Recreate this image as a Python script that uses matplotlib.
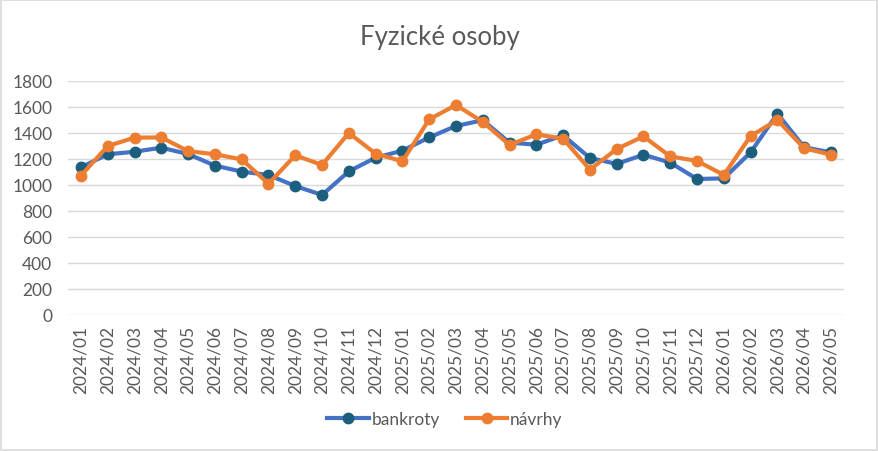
import matplotlib
matplotlib.use("Agg")
import matplotlib.pyplot as plt
from matplotlib.patches import Rectangle

months = ["2024/01","2024/02","2024/03","2024/04","2024/05","2024/06","2024/07","2024/08",
          "2024/09","2024/10","2024/11","2024/12","2025/01","2025/02","2025/03","2025/04",
          "2025/05","2025/06","2025/07","2025/08","2025/09","2025/10","2025/11","2025/12",
          "2026/01","2026/02","2026/03","2026/04","2026/05"]
bankroty = [1136, 1236, 1256, 1287, 1238, 1149, 1103, 1077, 992, 923, 1105, 1210, 1264,
            1366, 1454, 1498, 1326, 1310, 1382, 1208, 1162, 1233, 1172, 1046, 1051, 1251,
            1549, 1290, 1251]
navrhy = [1072, 1300, 1364, 1366, 1261, 1236, 1197, 1010, 1228, 1154, 1400, 1241, 1182,
          1505, 1615, 1485, 1308, 1390, 1356, 1118, 1277, 1374, 1220, 1185, 1077, 1377,
          1500, 1282, 1233]
yticks = list(range(0, 1801, 200))

plt.rcParams['font.family'] = ['Lato', 'DejaVu Sans']
fig = plt.figure(figsize=(8.79, 4.52), dpi=100)
ax = fig.add_axes([0.0769, 0.3009, 0.8837, 0.5177])

x = list(range(len(months)))
ax.plot(x, bankroty, color='#4472C4', lw=3.0, marker='o', ms=7.5,
        mfc='#1B5E7E', mec='#1B5E7E', label='bankroty', zorder=3)
ax.plot(x, navrhy, color='#ED7D31', lw=3.0, marker='o', ms=7.5,
        mfc='#ED7D31', mec='#ED7D31', label='návrhy', zorder=4)

ax.set_xlim(-0.5, len(months) - 0.5)
ax.set_ylim(0, 1800)
ax.set_yticks(yticks)
ax.set_yticklabels([str(v) for v in yticks])
ax.set_xticks(x)
ax.set_xticklabels(months, rotation=90)
ax.grid(axis='y', color='#D9D9D9', lw=1.0)
ax.set_axisbelow(True)
for s in ax.spines.values():
    s.set_visible(False)
ax.tick_params(axis='both', length=0, labelsize=12.5, colors='#595959')
ax.tick_params(axis='x', pad=7)
ax.tick_params(axis='y', pad=11)

fig.text(0.5, 0.918, 'Fyzické osoby', ha='center', va='center', fontsize=18.5, color='#595959')

leg = fig.legend(loc='center', bbox_to_anchor=(0.506, 0.071), ncol=2, frameon=False,
                 fontsize=12.5, handlelength=2.4, columnspacing=1.5, handletextpad=0.15)
for t in leg.get_texts():
    t.set_color('#595959')

fig.patches.append(Rectangle((0.001, 0.002), 0.997, 0.996, transform=fig.transFigure,
                             fill=False, edgecolor='#D9D9D9', lw=1.2))
fig.savefig('out.png', dpi=100, facecolor='white')
